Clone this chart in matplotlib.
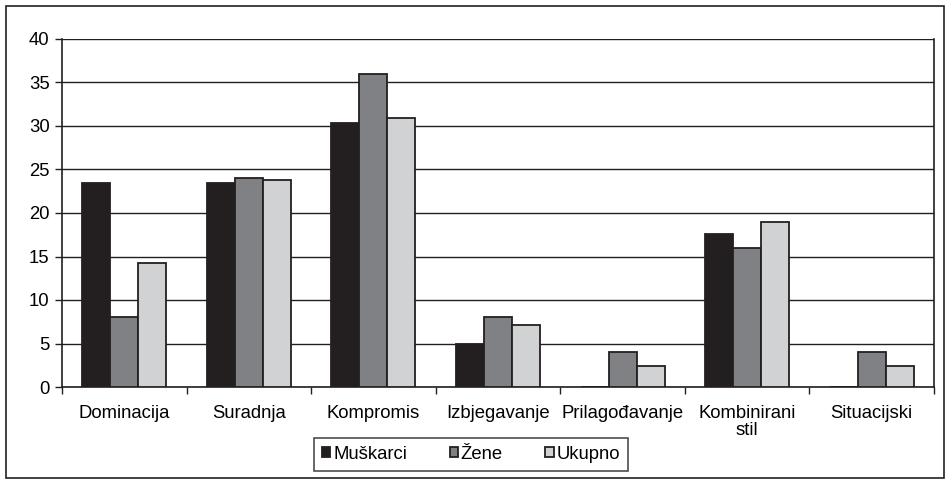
import numpy as np
import matplotlib
matplotlib.use("Agg")
import matplotlib.pyplot as plt
from matplotlib.patches import Rectangle

plt.rcParams['font.family'] = ['Liberation Sans', 'DejaVu Sans']

categories = ['Dominacija', 'Suradnja', 'Kompromis', 'Izbjegavanje',
              'Prilagođavanje', 'Kombinirani\nstil', 'Situacijski']
muskarci = [23.5, 23.5, 30.3, 5.0, 0.0, 17.6, 0.0]
zene = [8.0, 24.0, 36.0, 8.0, 4.0, 16.0, 4.0]
ukupno = [14.2, 23.8, 30.9, 7.1, 2.4, 19.0, 2.4]
series_names = ['Muškarci', 'Žene', 'Ukupno']
colors = ['#231f20', '#808184', '#d1d2d4']
edge = '#231f20'
fs = 13.3

fig = plt.figure(figsize=(9.51, 4.84), dpi=100)
fig.patches.append(Rectangle((6/951, 6/484), 938/951, 472/484, transform=fig.transFigure,
                             fill=False, edgecolor='#231f20', lw=1.2))
ax = fig.add_axes([62/951, 1-387/484, (934-62)/951, (387-39)/484])

x = np.arange(len(categories))
w = 0.225
for i, (vals, name, c) in enumerate(zip([muskarci, zene, ukupno], series_names, colors)):
    ax.bar(x + (i-1)*w, vals, width=w, color=c, edgecolor=edge, linewidth=1.3, label=name, zorder=3)

ax.set_xlim(-0.5, len(categories)-0.5)
ax.set_ylim(0, 40)
ax.set_yticks(range(0, 41, 5))
ax.yaxis.grid(True, color='#231f20', lw=1.0, zorder=0)
ax.set_axisbelow(True)

ax.set_xticks(x)
ax.set_xticklabels(categories, fontsize=fs, linespacing=1.0)
ax.set_xticks(np.arange(-0.5, len(categories), 1), minor=True)
ax.tick_params(axis='x', which='major', length=0, pad=13)
ax.tick_params(axis='x', which='minor', length=5, direction='out', width=1, color='#231f20')
ax.tick_params(axis='y', length=5, width=1, color='#231f20', labelsize=fs, pad=4)

for s in ['left', 'bottom', 'right']:
    ax.spines[s].set_color('#231f20')
    ax.spines[s].set_linewidth(1.2)
ax.spines['top'].set_visible(False)

leg = fig.legend(loc='center', bbox_to_anchor=(471/951, 1-454.5/484), ncol=3,
                 frameon=True, fancybox=False, edgecolor='#231f20', fontsize=fs,
                 handlelength=0.45, handleheight=0.45, handletextpad=0.15, columnspacing=2.3,
                 borderpad=0.45, borderaxespad=0)
leg.get_frame().set_linewidth(1.2)

fig.savefig('out.png', dpi=100)
